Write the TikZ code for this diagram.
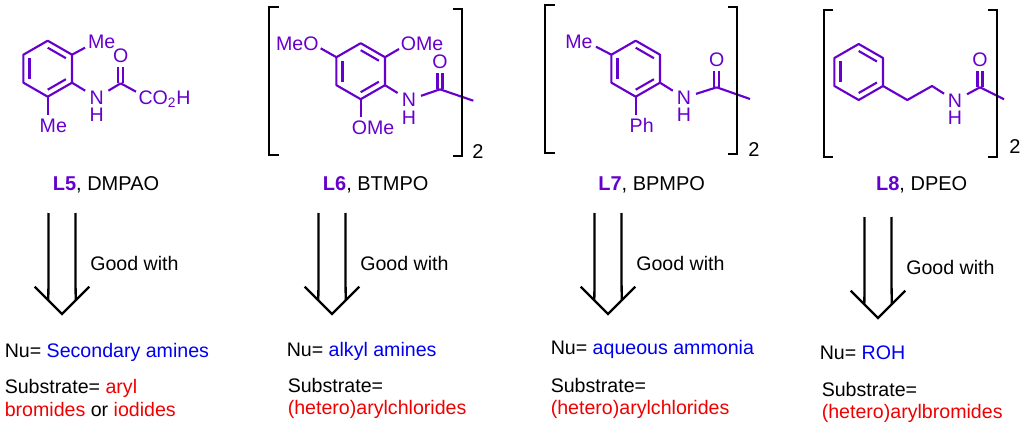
\documentclass[tikz,border=0pt]{standalone}
\usepackage{fontspec}
\setmainfont{Liberation Sans}
\usetikzlibrary{calc}
\definecolor{ligandpurple}{HTML}{6600CC}
\definecolor{nublue}{HTML}{0000F0}
\definecolor{subred}{HTML}{F00000}
\newcommand{\labelsize}{\fontsize{14.7}{17}\selectfont}
\newcommand{\capsize}{\fontsize{15}{17}\selectfont}
\tikzset{
    bond/.style={ligandpurple, line width=1.6pt, line join=round},
    bracketline/.style={black, line width=1.5pt},
    atom/.style={ligandpurple, font=\labelsize, inner sep=0pt},
    roundatom/.style={atom, circle, inner sep=0.5pt},
    nitrogen/.style={atom, inner xsep=3.5pt, inner ysep=0pt},
    caption/.style={font=\capsize, inner sep=0pt, anchor=base},
    plain/.style={font=\labelsize, inner sep=0pt, anchor=base west},
    bigarrow/.style={black, line width=1.7pt, miter limit=10},
}
% ring with its three inner double bonds, centre #2,#3
\newcommand{\arylring}[3]{
    \coordinate (#1c) at (#2,#3);
    \foreach \k/\dx/\dy in {1/0/-28, 2/24.3/-14, 3/24.3/14, 4/0/28, 5/-24.3/14, 6/-24.3/-14} {
        \coordinate (#1\k) at (#2+\dx,#3+\dy);
    }
    \draw[bond] (#11) -- (#12) -- (#13) -- (#14) -- (#15) -- (#16) -- cycle;
    \foreach \i/\j in {1/2, 3/4, 5/6} {
        \draw[bond] ($(#1c)!0.75!(#1\i)$) -- ($(#1c)!0.75!(#1\j)$);
    }
}
% N-H and C=O, N centre at #2,#3 and carbonyl C at #4,#5
\newcommand{\amide}[5]{
    \node[nitrogen] (#1n) at (#2,#3) {N};
    \node[atom] (#1h) at (#2,#3+17.3) {H};
    \coordinate (#1co) at (#4,#5);
    \node[roundatom] (#1o) at (#4,#5-27.5) {O};
    \draw[bond] (#1n) -- (#1co);
    \draw[bond] ([xshift=-1.9pt]#1co) -- ([xshift=-1.9pt]#1o.south);
    \draw[bond] ([xshift=1.9pt]#1co) -- ([xshift=1.9pt]#1o.south);
}
% double arrow, tip at #2,#4 and top of the shafts at #3
\newcommand{\goodarrow}[4]{
    \coordinate (#1tip) at (#2,#4);
    \coordinate (#1l) at (#2-27.3,#4-27.3);
    \coordinate (#1r) at (#2+27.3,#4-27.3);
    \draw[bigarrow] (#1l) -- (#1tip) -- (#1r);
    \draw[bigarrow] (#2-13.4,#3) -- ($(#1l)!0.5!(#1tip)$);
    \draw[bigarrow] (#2+13.4,#3) -- ($(#1r)!0.5!(#1tip)$);
}
\begin{document}
\begin{tikzpicture}[x=0.75pt, y=-0.75pt]
    \useasboundingbox (0,0) rectangle (1024,428);

    % L5
    \arylring{a}{47.7}{68.7}
    \amide{a}{96.7}{97.7}{120.7}{83.3}
    \coordinate (ame) at (85,47.7);
    \coordinate (amf) at (47.7,115);
    \coordinate (aend) at (136,91.7);
    \node[atom, anchor=base] (amelabel) at (101.7,48.3) {Me};
    \node[atom, anchor=base] (amflabel) at (53.3,132.3) {Me};
    \node[atom, anchor=base west] (acooh) at (138.3,104.3) {CO\textsubscript{2}H};
    \draw[bond] (a2) -- (ame);
    \draw[bond] (a4) -- (amf);
    \draw[bond] (a3) -- (an);
    \draw[bond] (aco) -- (aend);
    \node[caption] (acap) at (106,190) {\textcolor{ligandpurple}{\textbf{L5}}, DMPAO};

    % L6
    \arylring{b}{360.7}{71.2}
    \amide{b}{409}{100}{440}{89.3}
    \coordinate (bom) at (320.7,48.3);
    \coordinate (bon) at (399,49);
    \coordinate (boo) at (360.7,117);
    \coordinate (bme) at (473.3,100.7);
    \node[atom, anchor=base] (bmeo) at (297.3,50.3) {MeO};
    \node[atom, anchor=base] (bome) at (422,50.3) {OMe};
    \node[atom, anchor=base] (bomf) at (373,134.3) {OMe};
    \draw[bond] (b6) -- (bom);
    \draw[bond] (b2) -- (bon);
    \draw[bond] (b4) -- (boo);
    \draw[bond] (b3) -- (bn);
    \draw[bond] (bco) -- (bme);
    \draw[bracketline] (279,7.3) -| (269.3,155) -- (279,155);
    \draw[bracketline] (452.7,9) -| (462,155.7) -- (452.7,155.7);
    \node[caption] (btwo) at (478,158) {2};
    \node[caption] (bcap) at (375.7,190) {\textcolor{ligandpurple}{\textbf{L6}}, BTMPO};

    % L7
    \arylring{c}{635.7}{68.7}
    \amide{c}{684}{97.7}{716.7}{87.3}
    \coordinate (cmf) at (596,46.7);
    \coordinate (cph) at (635.7,115);
    \coordinate (cme) at (750,99);
    \node[atom, anchor=base] (cmelabel) at (579,48.3) {Me};
    \node[atom, anchor=base] (cphlabel) at (641.7,132.3) {Ph};
    \draw[bond] (c6) -- (cmf);
    \draw[bond] (c4) -- (cph);
    \draw[bond] (c3) -- (cn);
    \draw[bond] (cco) -- (cme);
    \draw[bracketline] (555,5) -| (545,153.3) -- (555,153.3);
    \draw[bracketline] (728.3,6.7) -| (737.3,154.3) -- (728.3,154.3);
    \node[caption] (ctwo) at (754,156.7) {2};
    \node[caption] (ccap) at (651.7,190) {\textcolor{ligandpurple}{\textbf{L7}}, BPMPO};

    % L8
    \arylring{d}{858.7}{72}
    \amide{d}{955}{100.7}{980}{87.3}
    \coordinate (dch) at (907.3,100);
    \coordinate (dci) at (932,86);
    \coordinate (dme) at (1004,99.3);
    \draw[bond] (d3) -- (dch) -- (dci) -- (dn);
    \draw[bond] (dco) -- (dme);
    \draw[bracketline] (833.3,10) -| (824,157.3) -- (833.3,157.3);
    \draw[bracketline] (988.3,10) -| (997.3,157.3) -- (988.3,157.3);
    \node[caption] (dtwo) at (1015,153.3) {2};
    \node[caption] (dcap) at (921.7,190) {\textcolor{ligandpurple}{\textbf{L8}}, DPEO};

    % arrows and their texts
    \goodarrow{e}{62}{213}{314}
    \goodarrow{f}{332}{213}{314}
    \goodarrow{g}{608}{213}{314}
    \goodarrow{h}{878}{217}{318}
    \foreach \name/\x/\y in {a/90/270, b/360/270, c/636/270, d/906/274} {
        \node[plain] (\name good) at (\x,\y) {Good with};
    }

    \node[plain] (anu) at (4.5,357.3) {Nu= \textcolor{nublue}{Secondary amines}};
    \node[plain] (asub) at (4.5,393.3) {Substrate= \textcolor{subred}{aryl}};
    \node[plain] (asubb) at (4.5,416) {\textcolor{subred}{bromides} or \textcolor{subred}{iodides}};

    \node[plain] (bnu) at (286.5,356) {Nu= \textcolor{nublue}{alkyl amines}};
    \node[plain] (bsub) at (287.5,392) {Substrate=};
    \node[plain] (bsubb) at (287.5,414) {\textcolor{subred}{(hetero)arylchlorides}};

    \node[plain] (cnu) at (550.5,354) {Nu= \textcolor{nublue}{aqueous ammonia}};
    \node[plain] (csub) at (550.5,392) {Substrate=};
    \node[plain] (csubb) at (550.5,414) {\textcolor{subred}{(hetero)arylchlorides}};

    \node[plain] (dnu) at (819.5,359) {Nu= \textcolor{nublue}{ROH}};
    \node[plain] (dsub) at (821.5,396) {Substrate=};
    \node[plain] (dsubb) at (821.5,418) {\textcolor{subred}{(hetero)arylbromides}};
\end{tikzpicture}
\end{document}
